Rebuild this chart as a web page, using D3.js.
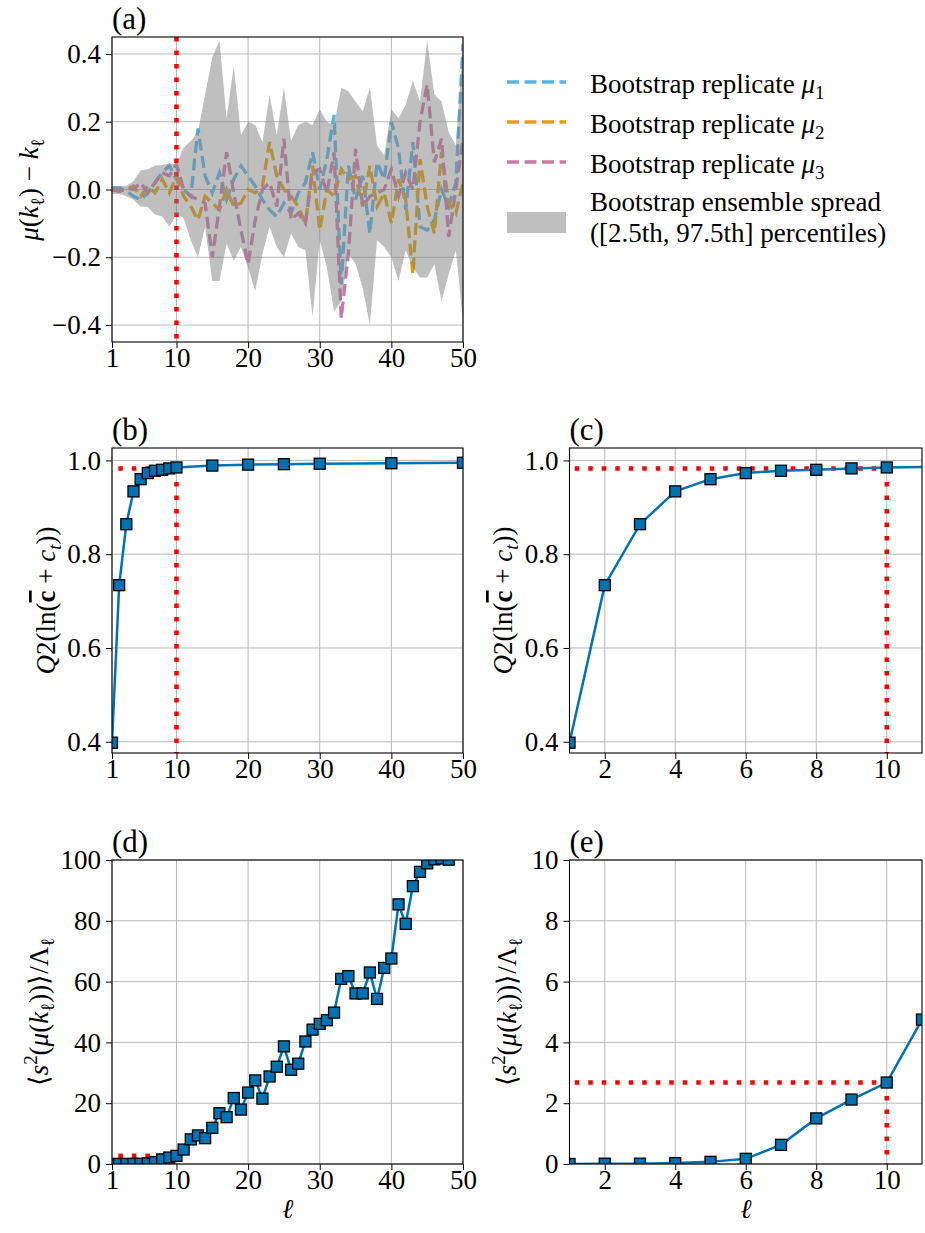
<!DOCTYPE html>
<html>
<head>
<meta charset="utf-8">
<script src="https://cdn.jsdelivr.net/npm/d3@7"></script>
<style>
  body { margin: 0; background: #fff; }
  svg text { fill: #000; white-space: pre; }
</style>
</head>
<body>
<div id="chart"></div>
<script>
// ---- panel (a): bootstrap replicates mu(k_l) - k_l, l = 1..50
var ell = d3.range(1, 51);
var mu1 = [0.005,0.005,-0.005,-0.02,-0.03,-0.01,0.02,0.05,0.07,0.03,0.0,-0.02,0.18,0.04,-0.01,0.05,-0.03,0.03,0.07,0.04,
           0.01,-0.03,-0.06,-0.08,-0.04,-0.07,-0.01,0.02,0.11,0.0,0.09,0.22,-0.28,0.07,-0.03,0.04,-0.13,0.08,0.03,0.2,
           0.12,-0.06,0.14,-0.11,-0.12,-0.09,0.0,-0.05,0.02,0.43];
var mu2 = [0.0,-0.005,0.0,0.01,-0.02,0.01,-0.01,0.03,-0.01,0.04,-0.02,-0.05,-0.09,-0.02,-0.04,-0.06,0.0,-0.05,-0.04,0.0,
           -0.01,0.01,0.14,0.04,0.0,-0.02,-0.05,-0.1,0.07,-0.12,0.0,-0.02,0.06,0.03,0.04,-0.05,0.07,-0.05,-0.01,-0.1,
           0.03,-0.03,-0.25,0.09,-0.05,-0.13,0.11,-0.04,-0.07,0.02];
var mu3 = [0.0,-0.005,0.005,0.0,0.02,-0.01,0.02,0.05,0.04,0.075,0.0,-0.02,-0.03,-0.04,-0.2,-0.05,0.11,-0.01,-0.12,-0.22,
           -0.09,0.0,0.02,-0.05,0.15,-0.09,-0.07,-0.1,0.05,0.06,-0.01,0.11,-0.38,-0.19,0.12,-0.05,-0.02,-0.01,0.0,0.06,
           -0.02,0.05,0.0,0.2,0.31,0.08,0.15,-0.14,0.0,0.15];
// ensemble spread, 2.5th / 97.5th percentiles
var spreadHi = [0.01,0.01,0.01,0.025,0.056,0.06,0.07,0.072,0.076,0.074,0.123,0.143,0.17,0.28,0.39,0.44,0.21,0.365,0.16,0.2,
                0.19,0.14,0.28,0.16,0.3,0.143,0.19,0.2,0.19,0.237,0.2,0.19,0.3,0.29,0.26,0.23,0.3,0.13,0.1,0.237,
                0.21,0.25,0.32,0.26,0.44,0.28,0.26,0.17,0.13,0.43];
var spreadLo = [-0.013,-0.013,-0.02,-0.03,-0.05,-0.052,-0.074,-0.08,-0.11,-0.074,-0.084,-0.15,-0.2,-0.11,-0.27,-0.27,-0.16,-0.21,-0.17,-0.23,
                -0.3,-0.19,-0.11,-0.17,-0.2,-0.13,-0.17,-0.18,-0.375,-0.15,-0.23,-0.36,-0.33,-0.19,-0.22,-0.29,-0.4,-0.15,-0.17,-0.2,
                -0.27,-0.18,-0.23,-0.26,-0.26,-0.22,-0.33,-0.25,-0.18,-0.39];

// ---- panels (b),(c): Q2 score
var q2Ell = [1,2,3,4,5,6,7,8,9,10,15,20,25,30,40,50];
var q2Val = [0.398,0.734,0.864,0.934,0.960,0.973,0.978,0.980,0.983,0.985,0.989,0.991,0.992,0.993,0.994,0.995];
var q2Cut = 0.983;

// ---- panels (d),(e): bootstrap variance ratio
var varEll = d3.range(1, 51);
var varVal = [0,0.01,0.01,0.03,0.07,0.17,0.63,1.5,2.12,2.68,4.75,8.1,9.4,8.5,11.9,16.7,15.4,21.7,17.9,23.5,
              27.5,21.5,28.8,32.0,38.7,31.0,33.0,40.3,44.2,46.1,47.3,49.8,60.9,61.8,56.1,56.1,63.0,54.3,64.5,67.6,
              85.4,79.0,91.4,96.1,98.9,100.2,100.5,100.1,103,106];
var varCut = 2.68;
var ellCut = 10;

// legend
var legendNames = ["Bootstrap replicate ", "Bootstrap replicate ", "Bootstrap replicate "];
var legendSubs = ["1", "2", "3"];
var seriesColors = ["#56B4E9", "#E69F00", "#CC79A7"];

var FS = 27;
var FONT = "Liberation Serif";
var blue = "#0072B2";

var svg = d3.select("#chart").append("svg")
  .attr("width", 925).attr("height", 1233)
  .style("font-family", FONT);
var defs = svg.append("defs");

// write math-ish text with italic / sub / sup pieces
function mathText(sel, parts, size) {
  var shift = 0;
  parts.forEach(function(p) {
    var want = p.sub ? size * 0.22 : p.sup ? -size * 0.4 : 0;
    sel.append("tspan")
      .attr("dy", want - shift)
      .style("font-family", FONT)
      .style("font-style", p.it ? "italic" : "normal")
      .style("font-weight", p.bold ? "bold" : "normal")
      .style("text-decoration", p.over ? "overline" : "none")
      .style("font-size", (p.sub || p.sup) ? (size * 0.7) + "px" : size + "px")
      .text(p.t);
    shift = want;
  });
}

function panel(o) {
  var g = svg.append("g").attr("transform", "translate(" + o.left + "," + o.top + ")");
  var x = d3.scaleLinear().domain(o.xDomain).range([0, o.w]);
  var y = d3.scaleLinear().domain(o.yDomain).range([o.h, 0]);
  defs.append("clipPath").attr("id", "clip-" + o.id)
    .append("rect").attr("width", o.w).attr("height", o.h);

  // grid
  var grid = g.append("g").attr("stroke", "#b9b9b9").attr("stroke-width", 1);
  grid.selectAll(".gx").data(o.xTicks).enter().append("line")
    .attr("x1", function(d) { return x(d); }).attr("x2", function(d) { return x(d); })
    .attr("y1", 0).attr("y2", o.h);
  grid.selectAll(".gy").data(o.yTicks).enter().append("line")
    .attr("y1", function(d) { return y(d); }).attr("y2", function(d) { return y(d); })
    .attr("x1", 0).attr("x2", o.w);

  var plot = g.append("g").attr("clip-path", "url(#clip-" + o.id + ")");
  return { g: g, x: x, y: y, plot: plot, o: o };
}

function finish(p) {
  var o = p.o, g = p.g;
  g.append("rect").attr("width", o.w).attr("height", o.h)
    .attr("fill", "none").attr("stroke", "#000").attr("stroke-width", 1.1);
  var xa = g.append("g").attr("transform", "translate(0," + o.h + ")")
    .call(d3.axisBottom(p.x).tickValues(o.xTicks).tickSize(6).tickPadding(0).tickSizeOuter(0).tickFormat(d3.format("d")));
  var ya = g.append("g")
    .call(d3.axisLeft(p.y).tickValues(o.yTicks).tickSize(6).tickPadding(5).tickSizeOuter(0).tickFormat(o.yFormat));
  [xa, ya].forEach(function(a) {
    a.select(".domain").remove();
    a.attr("font-size", null).attr("font-family", null);
    a.selectAll("text").style("font-size", FS + "px").style("font-family", FONT).attr("fill", "#000");
    a.selectAll("line").attr("stroke", "#000").attr("stroke-width", 1);
  });
  g.append("text").attr("x", 0).attr("y", -8).style("font-family", FONT)
    .style("font-size", "31px").text("(" + o.id + ")");
}

function yLabel(p, parts, bx) {
  var t = svg.append("text")
    .attr("transform", "translate(" + bx + "," + (p.o.top + p.o.h / 2) + ") rotate(-90)")
    .attr("text-anchor", "middle").style("font-family", FONT).style("font-size", FS + "px");
  mathText(t, parts, FS);
}

function xLabel(p) {
  svg.append("text")
    .attr("x", p.o.left + p.o.w / 2).attr("y", 1218)
    .attr("text-anchor", "middle").style("font-family", FONT)
    .style("font-size", FS + "px").style("font-style", "italic")
    .text("ℓ");
}

function redDots(sel) {
  return sel.attr("stroke", "#ff0000").attr("stroke-width", 4.5)
    .attr("stroke-dasharray", "4.5 9").attr("fill", "none");
}

var muLabel = [{t: "μ", it: 1}, {t: "("}, {t: "k", it: 1}, {t: "ℓ", sub: 1}, {t: ")"}, {t: " − "}, {t: "k", it: 1}, {t: "ℓ", sub: 1}];
var q2Label = [{t: "Q", it: 1}, {t: "2(ln("}, {t: "c", bold: 1, over: 1}, {t: " + "}, {t: "c", it: 1}, {t: "t", it: 1, sub: 1}, {t: "))"}];
var varLabel = [{t: "⟨"}, {t: "s", it: 1}, {t: "2", sup: 1}, {t: "("}, {t: "μ", it: 1}, {t: "("}, {t: "k", it: 1},
                {t: "ℓ", sub: 1}, {t: "))⟩/Λ"}, {t: "ℓ", sub: 1}];

// ===== panel (a)
var pa = panel({id: "a", left: 112, top: 37, w: 351, h: 305, xDomain: [1, 50], yDomain: [-0.45, 0.45],
  xTicks: [1, 10, 20, 30, 40, 50], yTicks: [-0.4, -0.2, 0, 0.2, 0.4], yFormat: d3.format(".1f")});

var lineA = d3.line()
  .x(function(d, i) { return pa.x(ell[i]); })
  .y(function(d) { return pa.y(d); });

[mu1, mu2, mu3].forEach(function(s, k) {
  pa.plot.append("path").datum(s).attr("d", lineA)
    .attr("fill", "none").attr("stroke", seriesColors[k]).attr("stroke-width", 3.3)
    .attr("stroke-dasharray", "12 5.5");
});

redDots(pa.plot.append("line"))
  .attr("x1", pa.x(ellCut)).attr("x2", pa.x(ellCut)).attr("y1", 0).attr("y2", pa.o.h);

var band = d3.area()
  .x(function(d, i) { return pa.x(ell[i]); })
  .y0(function(d, i) { return pa.y(spreadLo[i]); })
  .y1(function(d) { return pa.y(d); });
pa.plot.append("path").datum(spreadHi).attr("d", band)
  .attr("fill", "#808080").attr("fill-opacity", 0.5);

finish(pa);
yLabel(pa, muLabel, 38);

// legend
var leg = svg.append("g");
legendNames.forEach(function(name, i) {
  var ly = 82 + i * 40;
  leg.append("line").attr("x1", 507).attr("x2", 566).attr("y1", ly).attr("y2", ly)
    .attr("stroke", seriesColors[i]).attr("stroke-width", 3.3).attr("stroke-dasharray", "12 5.5");
  var t = leg.append("text").attr("x", 590).attr("y", ly + 11).style("font-family", FONT).style("font-size", FS + "px");
  mathText(t, [{t: name}, {t: "μ", it: 1}, {t: legendSubs[i], sub: 1}], FS);
});
leg.append("rect").attr("x", 507).attr("y", 212).attr("width", 59).attr("height", 21)
  .attr("fill", "#808080").attr("fill-opacity", 0.5);
leg.append("text").attr("x", 590).attr("y", 211).style("font-family", FONT)
  .style("font-size", FS + "px").text("Bootstrap ensemble spread");
leg.append("text").attr("x", 590).attr("y", 242).style("font-family", FONT)
  .style("font-size", FS + "px").text("([2.5th, 97.5th] percentiles)");

// ===== panels (b) and (c)
function q2Panel(o) {
  var p = panel(o);
  redDots(p.plot.append("path"))
    .attr("d", d3.line()([[p.x(0), p.y(q2Cut)], [p.x(ellCut), p.y(q2Cut)]]));
  redDots(p.plot.append("path"))
    .attr("d", d3.line()([[p.x(ellCut), p.y(q2Cut)], [p.x(ellCut), p.o.h]]));
  var ln = d3.line()
    .x(function(d, i) { return p.x(q2Ell[i]); })
    .y(function(d) { return p.y(d); });
  p.plot.append("path").datum(q2Val).attr("d", ln)
    .attr("fill", "none").attr("stroke", blue).attr("stroke-width", 2.5);
  p.plot.selectAll(".m").data(q2Val).enter().append("rect")
    .attr("x", function(d, i) { return p.x(q2Ell[i]) - 5.5; })
    .attr("y", function(d) { return p.y(d) - 5.5; })
    .attr("width", 11).attr("height", 11)
    .attr("fill", blue).attr("stroke", "#000").attr("stroke-width", 1.3);
  finish(p);
  return p;
}

var pb = q2Panel({id: "b", left: 112, top: 448, w: 351, h: 305, xDomain: [1, 50], yDomain: [0.376, 1.0265],
  xTicks: [1, 10, 20, 30, 40, 50], yTicks: [0.4, 0.6, 0.8, 1.0], yFormat: d3.format(".1f")});
yLabel(pb, q2Label, 55);

var pc = q2Panel({id: "c", left: 569.5, top: 448, w: 352.5, h: 305, xDomain: [1, 11], yDomain: [0.376, 1.0265],
  xTicks: [2, 4, 6, 8, 10], yTicks: [0.4, 0.6, 0.8, 1.0], yFormat: d3.format(".1f")});
yLabel(pc, q2Label, 512);

// ===== panels (d) and (e)
function varPanel(o) {
  var p = panel(o);
  redDots(p.plot.append("path"))
    .attr("d", d3.line()([[p.x(0), p.y(varCut)], [p.x(ellCut), p.y(varCut)]]));
  redDots(p.plot.append("path"))
    .attr("d", d3.line()([[p.x(ellCut), p.y(varCut)], [p.x(ellCut), p.o.h]]));
  var ln = d3.line()
    .x(function(d, i) { return p.x(varEll[i]); })
    .y(function(d) { return p.y(d); });
  p.plot.append("path").datum(varVal).attr("d", ln)
    .attr("fill", "none").attr("stroke", blue).attr("stroke-width", 2.5);
  p.plot.selectAll(".m").data(varVal).enter().append("rect")
    .attr("x", function(d, i) { return p.x(varEll[i]) - 5.5; })
    .attr("y", function(d) { return p.y(d) - 5.5; })
    .attr("width", 11).attr("height", 11)
    .attr("fill", blue).attr("stroke", "#000").attr("stroke-width", 1.3);
  finish(p);
  xLabel(p);
  return p;
}

var pd = varPanel({id: "d", left: 112, top: 860, w: 351, h: 304, xDomain: [1, 50], yDomain: [0, 100],
  xTicks: [1, 10, 20, 30, 40, 50], yTicks: [0, 20, 40, 60, 80, 100], yFormat: d3.format("d")});
yLabel(pd, varLabel, 48);

var pe = varPanel({id: "e", left: 569.5, top: 860, w: 352.5, h: 304, xDomain: [1, 11], yDomain: [0, 10],
  xTicks: [2, 4, 6, 8, 10], yTicks: [0, 2, 4, 6, 8, 10], yFormat: d3.format("d")});
yLabel(pe, varLabel, 516);
</script>
</body>
</html>
